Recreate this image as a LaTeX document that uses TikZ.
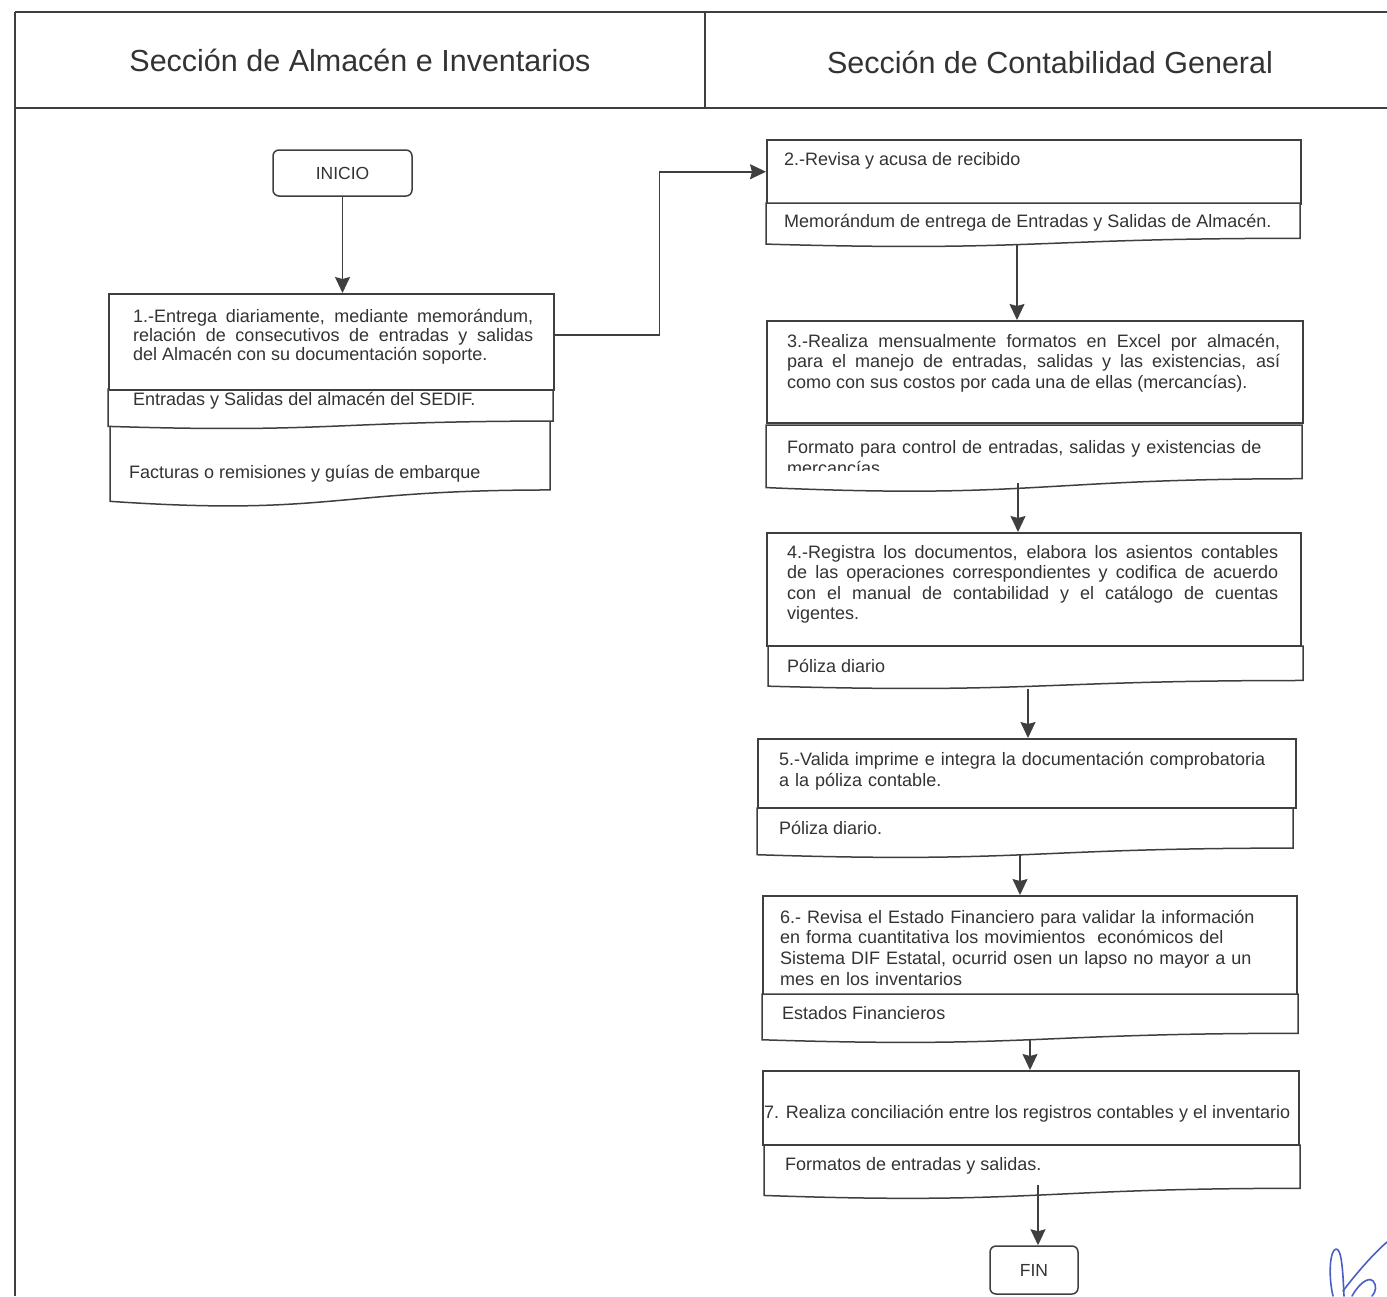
\documentclass[tikz,border=0pt]{standalone}
\usepackage{fontspec}
\setmainfont{Liberation Sans}
\usetikzlibrary{arrows.meta}

\definecolor{ink}{HTML}{333333}
\definecolor{edge}{HTML}{3F3F3F}
\definecolor{pen}{HTML}{4B5EC6}

\newcommand{\bodyfont}{\fontsize{18}{20.5}\selectfont}
\newcommand{\headfont}{\fontsize{30.5}{36}\selectfont}

% document symbol: left x, top y, right x, height
\newcommand{\docbox}[4]{%
  \draw[docline] (#1,#2) -- (#3,#2) -- (#3,{#2+0.802*#4})
    .. controls ({(#1+#3)/2},{#2+0.802*#4}) and ({(#1+#3)/2},{#2+1.1075*#4})
    .. (#1,{#2+0.934*#4}) -- cycle;}

\begin{document}
\begin{tikzpicture}[x=1pt, y=-1pt,
  frame/.style={draw=edge, line width=1.8pt},
  proc/.style={draw=edge, line width=1.5pt, fill=white, rectangle,
    inner sep=0pt, anchor=north west},
  docline/.style={draw=edge, line width=1.5pt, fill=white},
  term/.style={draw=edge, line width=1.5pt, fill=white, rectangle,
    rounded corners=6pt, inner sep=0pt, text=ink,
    font=\fontsize{17.5}{20}\selectfont},
  txt/.style={anchor=base west, inner sep=0pt, text=ink, font=\bodyfont,
    align=left},
  head/.style={inner sep=0pt, text=ink, font=\headfont},
  arr/.style={draw=edge, line width=1.5pt,
    -{Stealth[length=16pt, width=15pt, inset=2pt]}},
  sign/.style={draw=pen, line width=1.6pt, line cap=round, line join=round}
]
\useasboundingbox (0,0) rectangle (1387,1296);
\fill[white] (0,0) rectangle (1387,1296);

% lane header
\draw[frame] (15,12) -- (1387,12);
\draw[frame] (15,108) -- (1387,108);
\draw[frame] (15,12) -- (15,1296);
\draw[draw=edge, line width=1.2pt] (705,12) -- (705,108);
\node[head] (h1) at (360,60) {Sección de Almacén e Inventarios};
\node[head] (h2) at (1050,62) {Sección de Contabilidad General};

% start
\node[term, minimum width=139pt, minimum height=46pt] (ini) at (342.5,173) {INICIO};

% step 1
\docbox{110}{421}{550}{86}
\docbox{108}{389}{553}{40}
\node[proc, minimum width=445pt, minimum height=96pt] (p1) at (108,293) {};
\node[txt, text width=400pt, align=justify, font=\fontsize{18}{19}\selectfont] (t1) at (133,322)
  {1.-Entrega diariamente, mediante memorándum,\linebreak
   relación de consecutivos de entradas y salidas\linebreak
   del Almacén con su documentación soporte.};
\node[txt] (d1a) at (133,405) {Entradas y Salidas del almacén del SEDIF.};
\node[txt] (d1b) at (129,478) {Facturas o remisiones y guías de embarque};

% step 2
\node[proc, minimum width=534pt, minimum height=64pt] (p2) at (766,139) {};
\docbox{766}{203}{1300}{44}
\node[txt] (t2) at (784,165) {2.-Revisa y acusa de recibido};
\node[txt] (d2) at (784,227) {Memorándum de entrega de Entradas y Salidas de Almacén.};
\coordinate (d2b) at (1017,244);

% step 3
\node[proc, minimum width=536pt, minimum height=102pt] (p3) at (766,320) {};
\docbox{766}{425}{1302}{67}
\node[txt, text width=493pt, align=justify] (t3) at (787,347)
  {\fontsize{18}{21}\selectfont
   3.-Realiza mensualmente formatos en Excel por almacén,\linebreak
   para el manejo de entradas, salidas y las existencias, así\linebreak
   como con sus costos por cada una de ellas (mercancías).};
\begin{scope}
  \clip (770,430) rectangle (1298,470);
  \node[txt, text width=505pt, font=\fontsize{18}{21}\selectfont] (d3) at (787,453)
    {Formato para control de entradas, salidas y existencias de\\mercancías};
\end{scope}
\coordinate (d3b) at (1018,483);

% step 4
\node[proc, minimum width=534pt, minimum height=113pt] (p4) at (766,532) {};
\docbox{768}{646}{1303}{43}
\node[txt, text width=491pt, align=justify] (t4) at (787,558)
  {\fontsize{18}{20.7}\selectfont
   4.-Registra los documentos, elabora los asientos contables\linebreak
   de las operaciones correspondientes y codifica de acuerdo\linebreak
   con el manual de contabilidad y el catálogo de cuentas\linebreak
   vigentes.};
\node[txt] (d4) at (787,672) {Póliza diario};
\coordinate (d4b) at (1028,689);

% step 5
\node[proc, minimum width=538pt, minimum height=69pt] (p5) at (757,738) {};
\docbox{757}{808}{1293}{50}
\node[txt, text width=510pt, font=\fontsize{18}{21}\selectfont] (t5) at (779,765)
  {5.-Valida imprime e integra la documentación comprobatoria\\a la póliza contable.};
\node[txt] (d5) at (779,834) {Póliza diario.};
\coordinate (d5b) at (1020,855);

% step 6
\node[proc, minimum width=534pt, minimum height=99pt] (p6) at (762,895) {};
\docbox{762}{994}{1298}{49}
\node[txt, text width=510pt, font=\fontsize{18}{20.7}\selectfont] (t6) at (780,923)
  {6.-\ Revisa el Estado Financiero para validar la información\\
   en forma cuantitativa los movimientos\ \ económicos del\\
   Sistema DIF Estatal, ocurrid osen un lapso no mayor a un\\
   mes en los inventarios};
\node[txt] (d6) at (782,1019) {Estados Financieros};
\coordinate (d6b) at (1030,1040);

% step 7
\node[proc, minimum width=536pt, minimum height=74pt] (p7) at (762,1070) {};
\docbox{764}{1145}{1300}{54}
\node[txt] (t7) at (764,1118) {7. Realiza conciliación entre los registros contables y el inventario};
\node[txt] (d7) at (785,1170) {Formatos de entradas y salidas.};
\coordinate (d7b) at (1038,1185);

% end
\node[term, minimum width=88pt, minimum height=48pt] (fin) at (1034,1270) {FIN};

% connectors
\draw[arr] (ini.south) -- (p1.north -| ini.south);
\draw[arr] ([yshift=7pt]p1.east) -- ++(105,0) |- (p2.west);
\draw[arr] (d2b) -- (d2b |- p3.north);
\draw[arr] (d3b) -- (d3b |- p4.north);
\draw[arr] (d4b) -- (d4b |- p5.north);
\draw[arr] (d5b) -- (d5b |- p6.north);
\draw[arr] (d6b) -- (d6b |- p7.north);
\draw[arr] (d7b) -- (d7b |- fin.north);

% initials
\draw[sign] (1333,1296) .. controls (1328,1275) and (1330,1250) .. (1336,1249)
  .. controls (1342,1248) and (1343,1275) .. (1344,1296);
\draw[sign] (1343,1291) .. controls (1355,1275) and (1372,1255) .. (1387,1242);
\draw[sign] (1352,1296) .. controls (1358,1285) and (1368,1276) .. (1373,1281)
  .. controls (1377,1285) and (1376,1292) .. (1372,1296);
\end{tikzpicture}
\end{document}
